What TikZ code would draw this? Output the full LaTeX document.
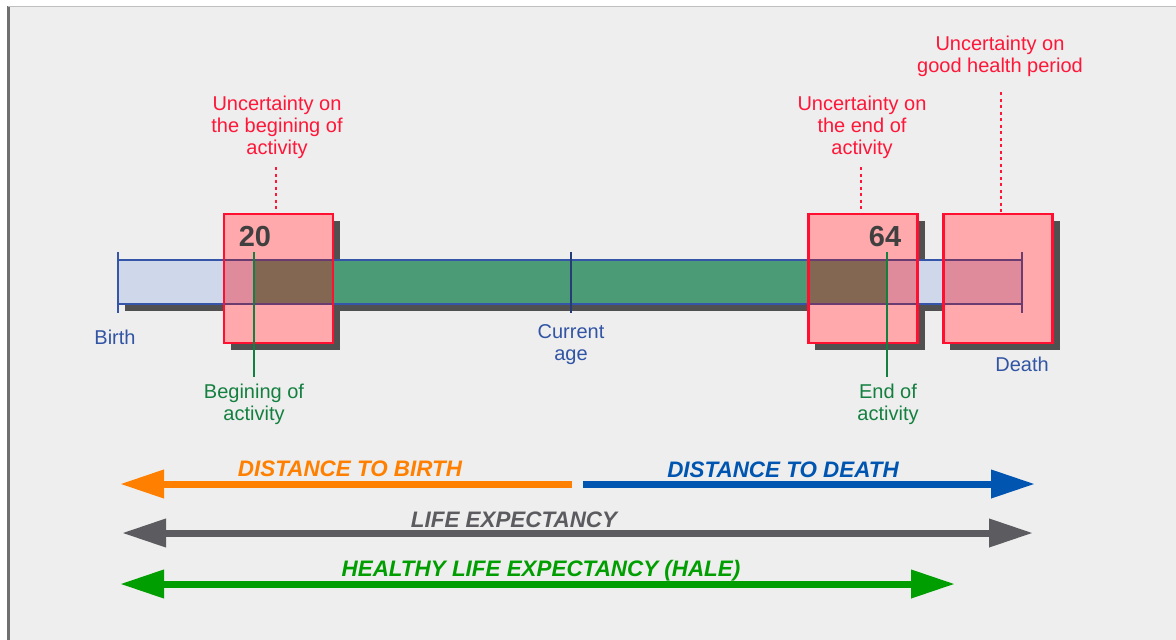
\documentclass[tikz,border=0pt]{standalone}
\usepackage{xcolor}
\usepackage{fontspec}
\setmainfont{Liberation Sans}
\usepackage{tikz}
\usetikzlibrary{arrows.meta}

\definecolor{bggray}{HTML}{EEEEEE}
\definecolor{framegray}{HTML}{707070}
\definecolor{shadegray}{HTML}{505050}
\definecolor{uncred}{HTML}{FF1638}
\definecolor{axisblue}{HTML}{3154A4}
\definecolor{actgreen}{HTML}{148040}
\definecolor{numgray}{HTML}{404040}
\definecolor{barblue}{HTML}{CED8EA}
\definecolor{barline}{HTML}{3556A8}
\definecolor{bargreen}{HTML}{4A9B76}
\definecolor{boxpink}{HTML}{FFA9AC}
\definecolor{boxred}{HTML}{FF1030}
\definecolor{pinkblue}{HTML}{DF8B9C}
\definecolor{brownish}{HTML}{836752}
\definecolor{purpleedge}{HTML}{6A3C70}
\definecolor{arrorange}{HTML}{FF8000}
\definecolor{arrblue}{HTML}{0055B0}
\definecolor{arrgray}{HTML}{5C5C60}
\definecolor{arrgreen}{HTML}{009E00}

\tikzset{
  txt/.style={align=center,inner sep=0pt,font=\fontsize{20}{22}\selectfont},
  bigtxt/.style={inner sep=0pt,font=\fontsize{22.4}{24}\selectfont\bfseries\itshape},
  numtxt/.style={inner sep=0pt,text=numgray,font=\fontsize{29}{29}\selectfont\bfseries},
  boxfill/.style={fill=boxpink,inner sep=0pt,outer sep=0pt,minimum width=109pt,minimum height=129pt},
  boxline/.style={draw=boxred,line width=2.5pt},
  uncline/.style={draw=uncred,line width=2.5pt,dash pattern=on 3pt off 3.5pt},
  actline/.style={draw=actgreen,line width=2.5pt},
  bigarrow/.style={line width=7pt,-{Triangle[length=44pt,width=27pt]}},
  botharrow/.style={line width=7pt,{Triangle[length=44pt,width=27pt]}-{Triangle[length=44pt,width=27pt]}}
}

\begin{document}
\begin{tikzpicture}[x=1pt,y=-1pt]
\useasboundingbox (0,0) rectangle (1176,640);
\fill[white] (0,0) rectangle (1176,640);
\fill[bggray] (8,6) rectangle (1176,640);
\draw[framegray,line width=3pt] (8,6) -- (8,640);
\draw[gray!50,line width=1pt] (8,6.5) -- (1176,6.5);

% shadows
\fill[shadegray] (125,267) rectangle (1029,311);
\foreach \a/\b in {224/333,808/918,943/1053}
  \fill[shadegray] (\a+7,221) rectangle (\b+7,350);

% life line
\fill[barblue] (118,260) rectangle (1022,304);
\fill[bargreen] (254,260) rectangle (887,304);
\draw[barline,line width=2.2pt] (118,260) -- (1022,260) (118,304) -- (1022,304);
\coordinate (birth) at (118,252);
\draw[barline,line width=2.5pt] (birth) -- ++(0,61);
\coordinate (now) at (571,252);
\draw[draw=barline!70!black,line width=2.5pt] (now) -- ++(0,61);

% uncertainty boxes
\node[boxfill] (box1) at (278.5,278.5) {};
\node[boxfill] (box2) at (863,278.5) {};
\node[boxfill] (box3) at (998,278.5) {};
\fill[pinkblue] (224,260) rectangle (254,304);
\fill[brownish] (254,260) rectangle (333,304);
\fill[brownish] (808,260) rectangle (887,304);
\fill[pinkblue] (887,260) rectangle (918,304);
\fill[pinkblue] (943,260) rectangle (1022,304);
\draw[purpleedge,line width=2.2pt] (224,260) -- (333,260) (224,304) -- (333,304)
  (808,260) -- (918,260) (808,304) -- (918,304)
  (943,260) -- (1022,260) (943,304) -- (1022,304);
\coordinate (death) at (1022,252);
\draw[purpleedge,line width=2.5pt] (death) -- ++(0,61);
\foreach \b in {box1,box2,box3}
  \draw[boxline] (\b.south west) rectangle (\b.north east);

\node[numtxt] (n20) at (255,237) {20};
\node[numtxt] (n64) at (885,237) {64};

% labels on the line
\node[txt,text=axisblue] (birthlab) at (115,337) {Birth};
\node[txt,text=axisblue] (deathlab) at (1022,364) {Death};
\node[txt,text=axisblue] (agelab) at (571,345) {Current\\age};
\node[txt,text=actgreen] (beg) at (254,404) {Begining of\\activity};
\node[txt,text=actgreen] (endact) at (888,404) {End of\\activity};
\coordinate (t20) at (254,252);
\coordinate (t64) at (887,252);
\draw[actline] (t20) -- ([yshift=6pt]beg.north -| t20);
\draw[actline] (t64) -- ([yshift=6pt]endact.north -| t64);

% uncertainty notes
\node[txt,text=uncred] (unc1) at (277,127) {Uncertainty on\\the begining of\\activity};
\node[txt,text=uncred] (unc2) at (862,127) {Uncertainty on\\the end of\\activity};
\node[txt,text=uncred] (unc3) at (1000,56) {Uncertainty on\\good health period};
\coordinate (u1) at (276,167);
\coordinate (u2) at (861,167);
\coordinate (u3) at (1001,92);
\draw[uncline] (u1) -- (u1 |- box1.north);
\draw[uncline] (u2) -- (u2 |- box2.north);
\draw[uncline] (u3) -- (u3 |- box3.north);

% distances
\coordinate (mid1) at (572,484);
\coordinate (mid2) at (583,484);
\coordinate (left1) at (120,484);
\coordinate (right1) at (1035,484);
\draw[bigarrow,arrorange] (mid1) -- (left1);
\draw[bigarrow,arrblue] (mid2) -- (right1);
\node[bigtxt,text=arrorange] (dbirth) at (350,469) {DISTANCE TO BIRTH};
\node[bigtxt,text=arrblue] (ddeath) at (783,470) {DISTANCE TO DEATH};

\coordinate (left2) at (122,533);
\coordinate (right2) at (1033,533);
\draw[botharrow,arrgray] (left2) -- (right2);
\node[bigtxt,text=arrgray] (life) at (514,520) {LIFE EXPECTANCY};

\coordinate (left3) at (120,584);
\coordinate (right3) at (955,584);
\draw[botharrow,arrgreen] (left3) -- (right3);
\node[bigtxt,text=arrgreen] (hale) at (541,571) {HEALTHY LIFE EXPECTANCY (HALE)};
\end{tikzpicture}
\end{document}
